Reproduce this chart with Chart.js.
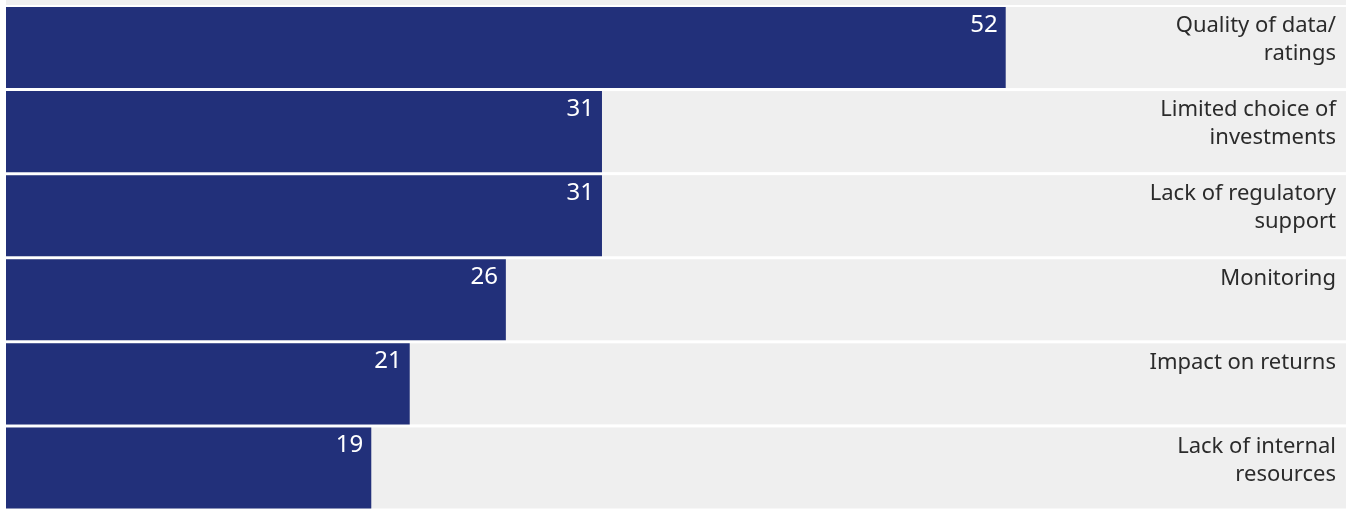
<!DOCTYPE html>
<html>
<head>
<meta charset="utf-8">
<script src="https://cdn.jsdelivr.net/npm/chart.js@4"></script>
<style>
    html, body { margin: 0; padding: 0; background: #ffffff; }
    #wrap { width: 1349px; height: 510px; position: relative; }
</style>
</head>
<body>
<div id="wrap"><canvas id="barriersChart"></canvas></div>
<script>
// categories (each label split into its two printed lines)
const categories = [
    ['Quality of data/', 'ratings'],
    ['Limited choice of', 'investments'],
    ['Lack of regulatory', 'support'],
    ['Monitoring'],
    ['Impact on returns'],
    ['Lack of internal', 'resources']
];
const values = [52, 31, 31, 26, 21, 19];
const axisMax = 69.7;

const navy = '#22307a';
const track = '#efefef';

// gray track behind each bar, plus the cut-off row at the very top
const trackPlugin = {
    id: 'tracks',
    beforeDatasetsDraw(chart) {
        const ctx = chart.ctx;
        const area = chart.chartArea;
        const meta = chart.getDatasetMeta(0);
        ctx.save();
        ctx.fillStyle = track;
        ctx.fillRect(area.left, 0, area.right - area.left, 5);
        meta.data.forEach(bar => {
            const h = bar.height;
            ctx.fillRect(area.left, bar.y - h / 2, area.right - area.left, h);
        });
        ctx.restore();
    }
};

const labelPlugin = {
    id: 'rowLabels',
    afterDatasetsDraw(chart) {
        const ctx = chart.ctx;
        const area = chart.chartArea;
        const meta = chart.getDatasetMeta(0);
        ctx.save();
        ctx.textBaseline = 'middle';
        ctx.textAlign = 'right';
        meta.data.forEach((bar, i) => {
            const top = bar.y - bar.height / 2;
            ctx.font = '24px "Noto Sans"';
            ctx.fillStyle = '#ffffff';
            ctx.fillText(String(values[i]), bar.x - 8, top + 18);
            ctx.font = '22px "Noto Sans"';
            ctx.fillStyle = '#2b2b2b';
            categories[i].forEach((line, j) => {
                ctx.fillText(line, area.right - 10, top + 19 + j * 28);
            });
        });
        ctx.restore();
    }
};

const ctx = document.getElementById('barriersChart').getContext('2d');
new Chart(ctx, {
    type: 'bar',
    data: {
        labels: categories,
        datasets: [{
            data: values,
            backgroundColor: navy,
            borderWidth: 0,
            barPercentage: 1,
            categoryPercentage: 0.964
        }]
    },
    options: {
        indexAxis: 'y',
        responsive: true,
        maintainAspectRatio: false,
        animation: false,
        layout: { padding: { left: 6, right: 3, top: 5.5, bottom: 0 } },
        plugins: {
            legend: { display: false },
            tooltip: { enabled: false }
        },
        scales: {
            x: { display: false, min: 0, max: axisMax },
            y: { display: false }
        }
    },
    plugins: [trackPlugin, labelPlugin]
});
</script>
</body>
</html>
